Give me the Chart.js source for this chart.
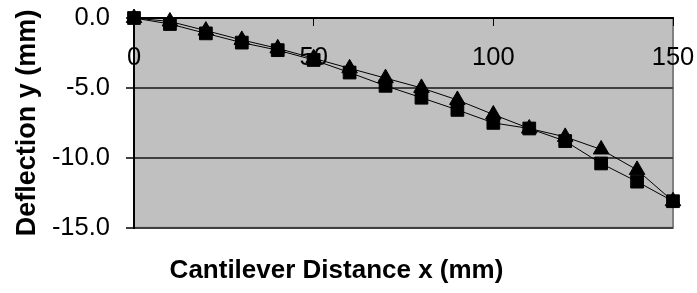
<!DOCTYPE html>
<html>
<head>
<meta charset="utf-8">
<script src="https://cdn.jsdelivr.net/npm/chart.js@4"></script>
<style>
  html, body { margin: 0; padding: 0; background: #fff; }
  #wrap { width: 697px; height: 293px; }
</style>
</head>
<body>
<div id="wrap"><canvas id="chart"></canvas></div>
<script>
const distance = [0, 10, 20, 30, 40, 50, 60, 70, 80, 90, 100, 110, 120, 130, 140, 150];
const deflectionSquare = [0, -0.43, -1.1, -1.76, -2.3, -3.0, -3.9, -4.85, -5.7, -6.57, -7.5, -7.9, -8.8, -10.4, -11.7, -13.1];
const deflectionTriangle = [0, -0.25, -0.9, -1.57, -2.17, -2.88, -3.6, -4.3, -5.0, -5.86, -6.9, -7.9, -8.5, -9.4, -10.86, -13.1];
const xTicks = [0, 50, 100, 150];
const yTicks = [0, -5, -10, -15];

const font = "'Liberation Sans', Arial, sans-serif";

// grey plot area like the old spreadsheet charts
const plotBackground = {
  id: "plotBackground",
  beforeDraw(chart) {
    const { ctx, chartArea: a } = chart;
    ctx.save();
    ctx.fillStyle = "#c0c0c0";
    ctx.fillRect(a.left, a.top, a.width, a.height);
    ctx.strokeStyle = "#808080";
    ctx.lineWidth = 2;
    ctx.strokeRect(a.left, a.top, a.width, a.height);
    ctx.restore();
  },
};

function toPoints(values) {
  return distance.map((x, i) => ({ x: x, y: values[i] }));
}

new Chart(document.getElementById("chart"), {
  type: "line",
  data: {
    datasets: [
      {
        label: "Square",
        data: toPoints(deflectionSquare),
        borderColor: "#000",
        backgroundColor: "#000",
        borderWidth: 1,
        pointStyle: "rect",
        pointRadius: 9,
        pointHoverRadius: 9,
        clip: false,
      },
      {
        label: "Triangle",
        data: toPoints(deflectionTriangle),
        borderColor: "#000",
        backgroundColor: "#000",
        borderWidth: 1,
        pointStyle: "triangle",
        pointRadius: 9,
        pointHoverRadius: 9,
        clip: false,
      },
    ],
  },
  options: {
    responsive: true,
    maintainAspectRatio: false,
    animation: false,
    layout: { padding: { top: 18, right: 24, left: 0, bottom: 0 } },
    plugins: {
      legend: { display: false },
      tooltip: { enabled: false },
      title: {
        display: true,
        position: "bottom",
        text: "Cantilever Distance x (mm)",
        color: "#000",
        font: { family: font, size: 26, weight: "bold" },
        padding: { top: 27, bottom: 7 },
      },
    },
    scales: {
      x: {
        type: "linear",
        position: { y: 0 },
        min: 0,
        max: 150,
        afterBuildTicks: (scale) => {
          scale.ticks = xTicks.map((v) => ({ value: v }));
        },
        afterFit: (scale) => {
          scale.paddingLeft = 0;
          scale.paddingRight = 0;
        },
        grid: { display: true, drawOnChartArea: false, tickLength: 7, tickColor: "#000", lineWidth: 1 },
        border: { color: "#000", width: 2 },
        ticks: {
          color: "#000",
          font: { family: font, size: 25.5 },
          padding: 18,
          maxRotation: 0,
        },
      },
      y: {
        type: "linear",
        min: -15,
        max: 0,
        afterBuildTicks: (scale) => {
          scale.ticks = yTicks.map((v) => ({ value: v }));
        },
        afterFit: (scale) => {
          scale.width = 134;
          scale.paddingTop = 0;
          scale.paddingBottom = 0;
        },
        grid: { color: "#404040", lineWidth: 2, tickLength: 8, tickColor: "#404040" },
        border: { color: "#000", width: 2 },
        ticks: {
          color: "#000",
          font: { family: font, size: 25.5 },
          padding: 16,
          callback: (v) => v.toFixed(1),
        },
        title: {
          display: true,
          text: "Deflection y (mm)",
          color: "#000",
          font: { family: font, size: 27, weight: "bold" },
          padding: { top: 11, bottom: 0 },
        },
      },
    },
  },
  plugins: [plotBackground],
});
</script>
</body>
</html>
